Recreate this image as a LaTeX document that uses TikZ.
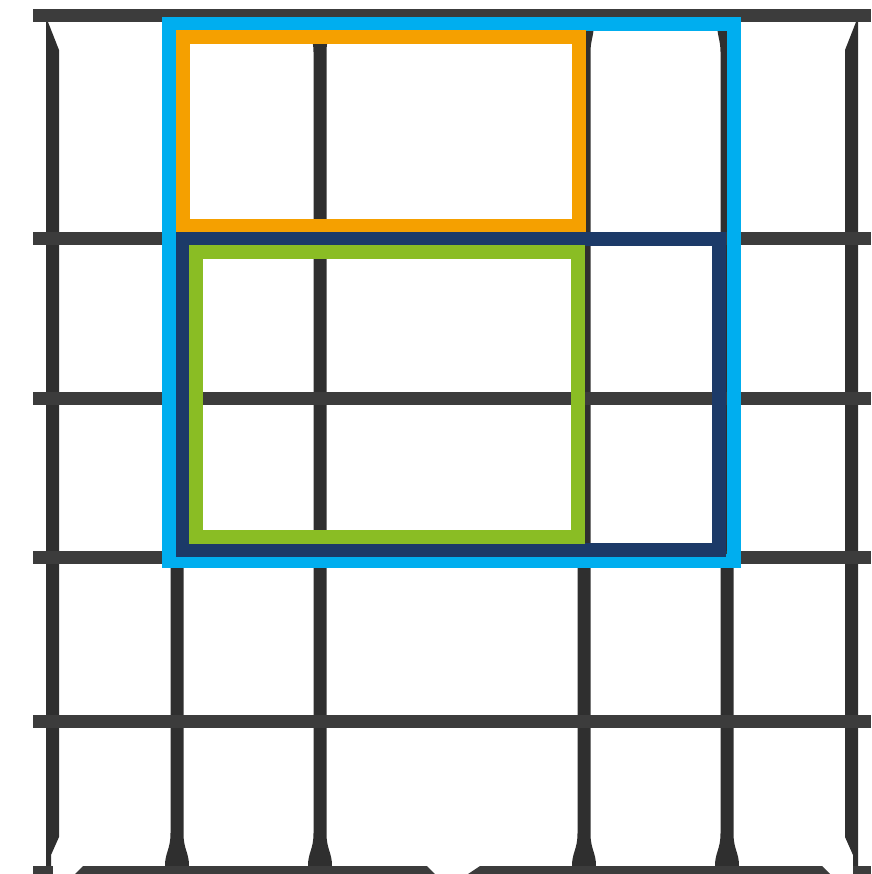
\documentclass[tikz,border=0pt]{standalone}
\usepackage{tikz}
\definecolor{gridbar}{HTML}{3C3C3C}
\definecolor{gridpost}{HTML}{2F2F2F}
\definecolor{skyblue}{HTML}{00AEEF}
\definecolor{amber}{HTML}{F5A000}
\definecolor{navy}{HTML}{1C3A68}
\definecolor{leaf}{HTML}{8ABD24}
\tikzstyle{hbar} = [fill=gridbar, draw=none]
\tikzstyle{vbar} = [fill=gridpost, draw=none]
\tikzstyle{frame} = [line width=13.5pt, line join=miter]

\begin{document}
\begin{tikzpicture}[x=1pt, y=-1pt]
\useasboundingbox (0,0) rectangle (871,874);
% inner posts, flared at both ends
\foreach \x in {177,320,584,727}
  \fill[vbar] (\x-10,22) .. controls (\x-10,36) and (\x-6.5,40) .. (\x-6.5,52) -- (\x-6.5,833)
    .. controls (\x-6.5,850) and (\x-12,852) .. (\x-12,866) -- (\x+12,866)
    .. controls (\x+12,852) and (\x+6.5,850) .. (\x+6.5,833) -- (\x+6.5,52)
    .. controls (\x+6.5,40) and (\x+10,36) .. (\x+10,22) -- cycle;
% outer posts
\fill[vbar] (46,22) -- (48,22) -- (59,50) -- (59,837) -- (51,855) -- (51,866) -- (46,866) -- cycle;
\fill[vbar] (858,22) -- (856,22) -- (845,50) -- (845,837) -- (853,855) -- (853,866) -- (858,866) -- cycle;
% cross bars
\foreach \y in {16,239,398,557,721}
  \fill[hbar] (33,\y-6.5) rectangle (871,\y+6.5);
\fill[hbar] (75,874) -- (83,866) -- (427,866) -- (435,874) -- cycle;
\fill[hbar] (468,874) -- (480,866) -- (822,866) -- (830,874) -- cycle;
\fill[hbar] (33,866) rectangle (53,874);
\fill[hbar] (853,866) rectangle (871,874);
% frames
\draw[frame, skyblue] (169,24) rectangle (734,561);
\draw[frame, amber] (183,37) rectangle (579,226);
\draw[frame, navy] (183,239) rectangle (719,550);
\draw[frame, leaf] (196,252) rectangle (578,537);
\end{tikzpicture}
\end{document}
